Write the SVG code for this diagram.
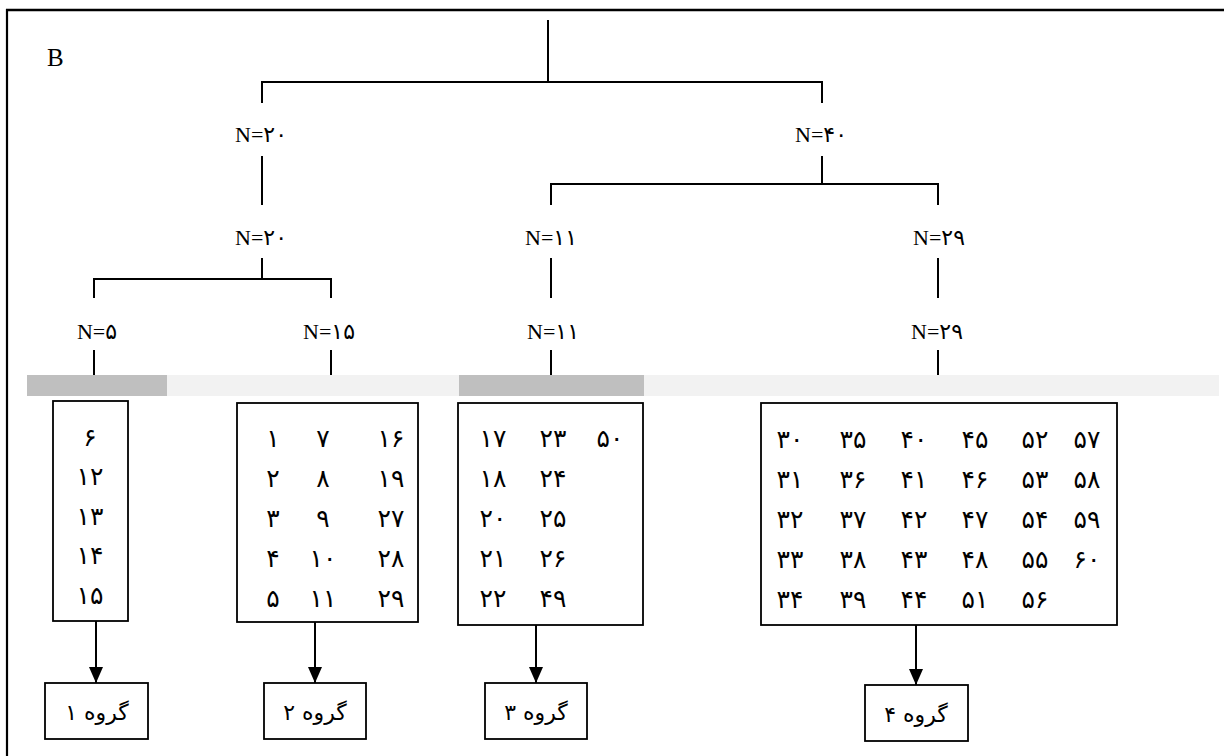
<svg xmlns="http://www.w3.org/2000/svg" width="1224" height="756" viewBox="0 0 1224 756">
<style>
.ln{stroke:#000;stroke-width:2;fill:none}
.bx{stroke:#000;stroke-width:1.8;fill:#fff}
.lbl{font-family:"Liberation Serif","DejaVu Sans",serif;font-size:22px;fill:#000;text-anchor:middle}
.num{font-family:"DejaVu Sans","Liberation Serif",sans-serif;font-size:25px;fill:#000;text-anchor:middle}
.grp{font-family:"DejaVu Sans","Liberation Serif",sans-serif;font-size:22px;fill:#000;text-anchor:middle}
</style>
<defs>
<marker id="arr" markerWidth="16" markerHeight="14" refX="16" refY="7" orient="auto" markerUnits="userSpaceOnUse" viewBox="0 0 16 14">
<path d="M0,0 L16,7 L0,14 Z" fill="#000"/>
</marker>
</defs>
<rect width="1224" height="756" fill="#fff"/>
<g id="frame">
<line x1="6" y1="10" x2="1224" y2="10" stroke="#000" stroke-width="2.5"/>
<line x1="7" y1="9" x2="7" y2="756" stroke="#000" stroke-width="2.2"/>
<text x="47" y="66" style="font-family:'Liberation Serif',serif;font-size:25px">B</text>
</g>
<g id="bars">
<rect x="27" y="375" width="140" height="21" fill="#bfbfbf"/>
<rect x="167" y="375" width="292" height="21" fill="#f2f2f2"/>
<rect x="459" y="375" width="185" height="21" fill="#bfbfbf"/>
<rect x="644" y="375" width="575" height="21" fill="#f2f2f2"/>
</g>
<g id="connectors">
<path class="ln" d="M548,20 V82 M262,103 V82 H822 V103"/>
<path class="ln" d="M262,156 V205 M262,258 V279 M94,298 V279 H331 V298"/>
<path class="ln" d="M94,350 V375 M331,350 V375"/>
<path class="ln" d="M822,156 V184 M551,205 V184 H938 V205"/>
<path class="ln" d="M551,258 V298 M551,350 V375 M938,258 V298 M938,350 V375"/>
<line class="ln" x1="96" y1="621" x2="96" y2="683" marker-end="url(#arr)"/>
<line class="ln" x1="315" y1="622" x2="315" y2="683" marker-end="url(#arr)"/>
<line class="ln" x1="536" y1="625" x2="536" y2="683" marker-end="url(#arr)"/>
<line class="ln" x1="916" y1="625" x2="916" y2="685" marker-end="url(#arr)"/>
</g>
<g id="labels">
<text class="lbl" x="261" y="142">N=۲۰</text>
<text class="lbl" x="821" y="142">N=۴۰</text>
<text class="lbl" x="261" y="245">N=۲۰</text>
<text class="lbl" x="551" y="245">N=۱۱</text>
<text class="lbl" x="939" y="245">N=۲۹</text>
<text class="lbl" x="97" y="339">N=۵</text>
<text class="lbl" x="329" y="339">N=۱۵</text>
<text class="lbl" x="553" y="339">N=۱۱</text>
<text class="lbl" x="937" y="339">N=۲۹</text>
</g>
<g id="box1">
<rect class="bx" x="53" y="401" width="75" height="220"/>
<text class="num" x="90" y="446">۶</text>
<text class="num" x="90" y="485">۱۲</text>
<text class="num" x="90" y="525">۱۳</text>
<text class="num" x="90" y="564">۱۴</text>
<text class="num" x="90" y="604">۱۵</text>
</g>
<g id="box2">
<rect class="bx" x="237" y="403" width="181" height="219"/>
<text class="num" x="273" y="447">۱</text><text class="num" x="323" y="447">۷</text><text class="num" x="391" y="447">۱۶</text>
<text class="num" x="273" y="487">۲</text><text class="num" x="323" y="487">۸</text><text class="num" x="391" y="487">۱۹</text>
<text class="num" x="273" y="527">۳</text><text class="num" x="323" y="527">۹</text><text class="num" x="391" y="527">۲۷</text>
<text class="num" x="273" y="567">۴</text><text class="num" x="323" y="567">۱۰</text><text class="num" x="391" y="567">۲۸</text>
<text class="num" x="273" y="607">۵</text><text class="num" x="323" y="607">۱۱</text><text class="num" x="391" y="607">۲۹</text>
</g>
<g id="box3">
<rect class="bx" x="458" y="403" width="185" height="222"/>
<text class="num" x="493" y="447">۱۷</text><text class="num" x="553" y="447">۲۳</text><text class="num" x="610" y="447">۵۰</text>
<text class="num" x="493" y="487">۱۸</text><text class="num" x="553" y="487">۲۴</text>
<text class="num" x="493" y="527">۲۰</text><text class="num" x="553" y="527">۲۵</text>
<text class="num" x="493" y="567">۲۱</text><text class="num" x="553" y="567">۲۶</text>
<text class="num" x="493" y="607">۲۲</text><text class="num" x="553" y="607">۴۹</text>
</g>
<g id="box4">
<rect class="bx" x="761" y="403" width="356" height="222"/>
<text class="num" x="790" y="448">۳۰</text><text class="num" x="853" y="448">۳۵</text><text class="num" x="914" y="448">۴۰</text><text class="num" x="975" y="448">۴۵</text><text class="num" x="1035" y="448">۵۲</text><text class="num" x="1087" y="448">۵۷</text>
<text class="num" x="790" y="488">۳۱</text><text class="num" x="853" y="488">۳۶</text><text class="num" x="914" y="488">۴۱</text><text class="num" x="975" y="488">۴۶</text><text class="num" x="1035" y="488">۵۳</text><text class="num" x="1087" y="488">۵۸</text>
<text class="num" x="790" y="528">۳۲</text><text class="num" x="853" y="528">۳۷</text><text class="num" x="914" y="528">۴۲</text><text class="num" x="975" y="528">۴۷</text><text class="num" x="1035" y="528">۵۴</text><text class="num" x="1087" y="528">۵۹</text>
<text class="num" x="790" y="568">۳۳</text><text class="num" x="853" y="568">۳۸</text><text class="num" x="914" y="568">۴۳</text><text class="num" x="975" y="568">۴۸</text><text class="num" x="1035" y="568">۵۵</text><text class="num" x="1087" y="568">۶۰</text>
<text class="num" x="790" y="608">۳۴</text><text class="num" x="853" y="608">۳۹</text><text class="num" x="914" y="608">۴۴</text><text class="num" x="975" y="608">۵۱</text><text class="num" x="1035" y="608">۵۶</text>
</g>
<g id="group1">
<rect class="bx" x="45" y="683" width="103" height="56"/>
<text class="grp" x="97" y="720">گروه ۱</text>
</g>
<g id="group2">
<rect class="bx" x="264" y="683" width="102" height="56"/>
<text class="grp" x="315" y="720">گروه ۲</text>
</g>
<g id="group3">
<rect class="bx" x="485" y="683" width="102" height="56"/>
<text class="grp" x="536" y="720">گروه ۳</text>
</g>
<g id="group4">
<rect class="bx" x="865" y="685" width="103" height="56"/>
<text class="grp" x="916" y="722">گروه ۴</text>
</g>
</svg>
